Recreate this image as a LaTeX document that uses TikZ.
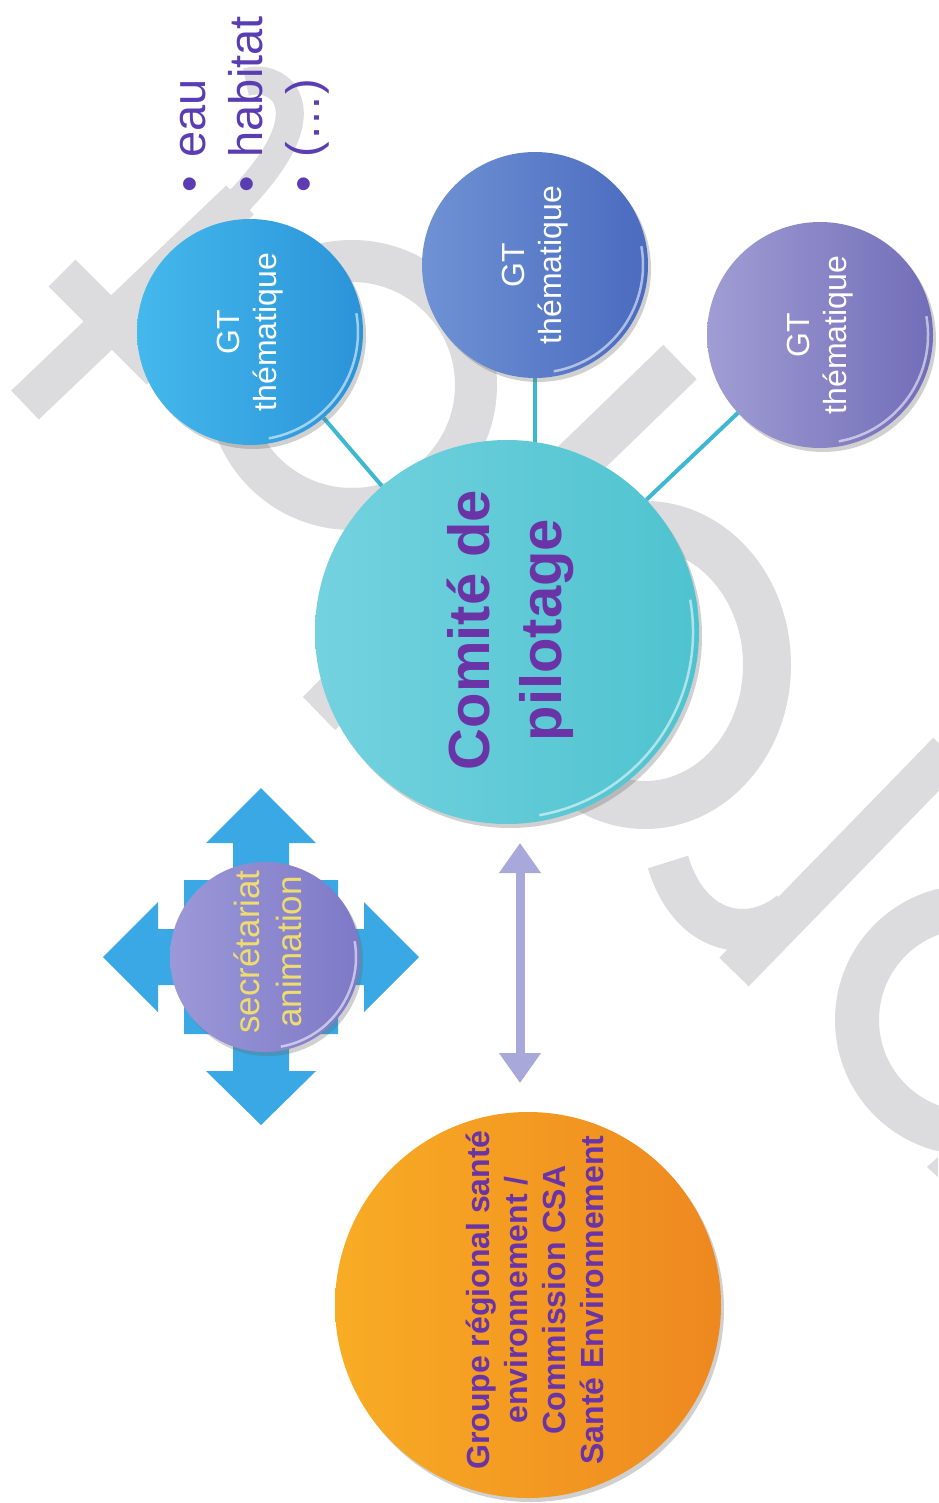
\documentclass[tikz,border=0pt]{standalone}
\usepackage{fontspec}
\setmainfont{Liberation Sans}
\usetikzlibrary{arrows.meta,shadows,calc}
\pgfdeclarelayer{paper}
\pgfdeclarelayer{wmk}
\pgfdeclarelayer{links}
\pgfsetlayers{paper,wmk,links,main}
\definecolor{wmgray}{HTML}{DCDCDE}
\definecolor{gtAa}{HTML}{44B9EC}
\definecolor{gtAb}{HTML}{2B93D9}
\definecolor{gtBa}{HTML}{6F92D4}
\definecolor{gtBb}{HTML}{4A6BBF}
\definecolor{gtCa}{HTML}{A09DD4}
\definecolor{gtCb}{HTML}{726DB8}
\definecolor{comA}{HTML}{74D2DF}
\definecolor{comB}{HTML}{4EC3CF}
\definecolor{orA}{HTML}{F8AC24}
\definecolor{orB}{HTML}{EE8820}
\definecolor{secA}{HTML}{9C98D8}
\definecolor{secB}{HTML}{7E79C6}
\definecolor{crossblue}{HTML}{3AA8E4}
\definecolor{lav}{HTML}{A9A8DA}
\definecolor{txtpurple}{HTML}{6A33A6}
\definecolor{bultxt}{HTML}{5A3DB3}
\definecolor{linkteal}{HTML}{3DB8D0}
\definecolor{sectxt}{HTML}{EEDC6E}
\begin{document}
\begin{tikzpicture}[x=1pt,y=1pt,
  disc/.style={circle, inner sep=0pt, draw=none, minimum size=#1},
  shd/.style={drop shadow={shadow xshift=3pt, shadow yshift=-4pt, opacity=0.3, fill=black!60}},
  gloss/.style={draw=white, opacity=0.55, line width=2.5pt},
  link/.style={draw=linkteal, line width=4pt},
  wm/.style={draw=wmgray, line width=#1},
  gtt/.style={rotate=90, text=white, align=center, inner sep=0pt, font=\fontsize{32}{37}\selectfont},
  comt/.style={rotate=90, text=txtpurple, align=center, inner sep=0pt, font=\fontsize{58}{72}\selectfont\bfseries},
  ort/.style={rotate=90, text=txtpurple, align=center, inner sep=0pt, font=\fontsize{32}{38}\selectfont\bfseries},
  sect/.style={rotate=90, text=sectxt, align=center, inner sep=0pt, font=\fontsize{35}{42}\selectfont},
  bult/.style={rotate=90, text=bultxt, align=left, inner sep=0pt, font=\fontsize{47}{57}\selectfont},
  darrow/.style={draw=lav, line width=9pt, {Triangle[width=40pt,length=30pt]}-{Triangle[width=40pt,length=30pt]}}
]
\begin{pgfonlayer}{paper}
\fill[white] (0,0) rectangle (938,-1503);
\end{pgfonlayer}
\useasboundingbox (0,0) rectangle (938,-1503);

% watermark
\begin{pgfonlayer}{wmk}
\draw[wm=40pt] (25,-405) -- (240,-200);
\draw[wm=28pt] (232,-208) .. controls (280,-160) and (302,-118) .. (283,-92) .. controls (272,-80) and (258,-79) .. (246,-82);
\draw[wm=38pt] (62,-273) -- (160,-371);
\draw[wm=42pt] (352,-385) circle (124);
\fill[wmgray] (303,-697) -- (342,-657) -- (375,-690) -- (335,-730) -- cycle;
\draw[wm=48pt] (397,-636) -- (680,-362);
\draw[wm=48pt] (645,-665) ellipse [x radius=122, y radius=140];
\draw[wm=41pt] (734,-972) -- (948,-752);
\draw[wm=42pt] (668,-862) .. controls (690,-935) and (750,-945) .. (790,-912);
\draw[wm=44pt] (970,-1020) circle (113);
\fill[wmgray] (927,-1167) -- (938,-1157) -- (938,-1177) -- cycle;
\end{pgfonlayer}

% circles
\node[disc=226pt, left color=gtAa, right color=gtAb, shd] (gt1) at (250,-332) {};
\node[disc=226pt, left color=gtBa, right color=gtBb, shd] (gt2) at (535,-265) {};
\node[disc=226pt, left color=gtCa, right color=gtCb, shd] (gt3) at (820,-335) {};
\node[disc=384pt, left color=comA, right color=comB, shd] (comite) at (507,-632) {};
\node[disc=386pt, left color=orA, right color=orB, shd] (groupe) at (528,-1305) {};

% links
\begin{pgfonlayer}{links}
\draw[link] (gt1) -- (comite);
\draw[link] (gt2.south) -- ($(gt2.south |- comite.north)+(0,-12)$);
\draw[link] (gt3) -- (comite);
\end{pgfonlayer}

% gloss
\draw[gloss] ([shift={(gt1.center)}]-80:108) arc[start angle=-80, end angle=10, radius=108];
\draw[gloss] ([shift={(gt2.center)}]-80:108) arc[start angle=-80, end angle=10, radius=108];
\draw[gloss] ([shift={(gt3.center)}]-80:108) arc[start angle=-80, end angle=10, radius=108];
\draw[gloss] ([shift={(comite.center)}]-80:186) arc[start angle=-80, end angle=10, radius=186];

% four-way arrow
\fill[crossblue] (261,-788) -- (316,-843) -- (289,-843) -- (289,-880) -- (338,-880) -- (338,-929) -- (364,-929) -- (364,-902) -- (419,-957) -- (364,-1012) -- (364,-985) -- (338,-985) -- (338,-1034) -- (289,-1034) -- (289,-1071) -- (316,-1071) -- (261,-1125) -- (206,-1071) -- (233,-1071) -- (233,-1034) -- (184,-1034) -- (184,-985) -- (158,-985) -- (158,-1012) -- (103,-957) -- (158,-902) -- (158,-929) -- (184,-929) -- (184,-880) -- (233,-880) -- (233,-843) -- (206,-843) -- cycle;
\node[disc=190pt, left color=secA, right color=secB, shd] (sec) at (265,-957) {};
\draw[gloss] ([shift={(sec.center)}]-80:91) arc[start angle=-80, end angle=10, radius=91];

% double arrow
\coordinate (ua) at (520,-843);
\coordinate (da) at (520,-1083);
\draw[darrow] (ua) -- (da);

% texts
\node[gtt] (gt1t) at (gt1) {GT\\thématique};
\node[gtt] (gt2t) at (gt2) {GT\\thématique};
\node[gtt] (gt3t) at (gt3) {GT\\thématique};
\node[comt] (comt) at (510,-630) {Comité de\\pilotage};
\node[ort] (grt) at (535,-1300) {Groupe régional santé\\environnement /\\Commission CSA\\Santé Environnement};
\node[sect] (sectx) at (268,-952) {secrétariat\\animation};
\node[bult, anchor=west] (bul) at (255,-193) {•\hspace{19pt}eau\\•\hspace{19pt}habitat\\•\hspace{19pt}(…)};
\end{tikzpicture}
\end{document}
